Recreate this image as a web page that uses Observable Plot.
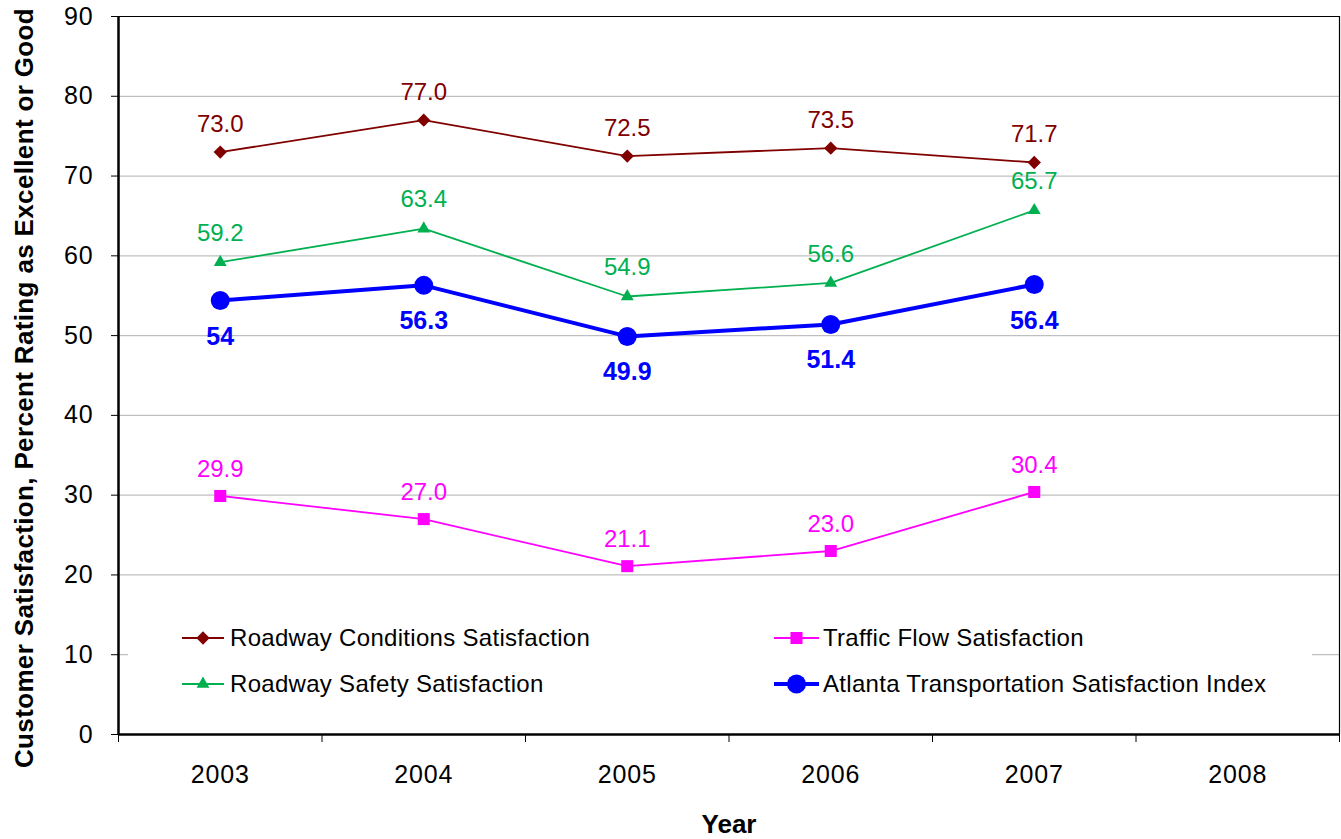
<!DOCTYPE html>
<html><head><meta charset="utf-8">
<script src="https://cdn.jsdelivr.net/npm/d3@7"></script>
<script src="https://cdn.jsdelivr.net/npm/@observablehq/plot@0.6"></script>
<style>
body{margin:0;background:#fff;font-family:"Liberation Sans",Arial,sans-serif;}
#wrap{position:relative;width:1341px;height:839px;overflow:hidden;background:#fff}
</style></head><body><div id="wrap"></div>
<script>
// ---- data ----
const years = [2003, 2004, 2005, 2006, 2007];
const axisYears = [2003, 2004, 2005, 2006, 2007, 2008];
const yTicks = [0, 10, 20, 30, 40, 50, 60, 70, 80, 90];
const seriesNames = [
  "Roadway Conditions Satisfaction",
  "Traffic Flow Satisfaction",
  "Roadway Safety Satisfaction",
  "Atlanta Transportation Satisfaction Index"
];
const conditions = [73.0, 77.0, 72.5, 73.5, 71.7];
const safety = [59.2, 63.4, 54.9, 56.6, 65.7];
const traffic = [29.9, 27.0, 21.1, 23.0, 30.4];
const atsi = [54.4, 56.3, 49.9, 51.4, 56.4];
const atsiLabels = ["54", "56.3", "49.9", "51.4", "56.4"];
const xTitle = "Year";
const yTitle = "Customer Satisfaction, Percent Rating as Excellent or Good";

// ---- styles ----
const FONT = "Liberation Sans, Arial, sans-serif";
const styles = {
  [seriesNames[0]]: {color: "#800000", symbol: "diamond2", r: 6, sw: 1.8, fmt: d => d.toFixed(1), bold: false, dy: -28},
  [seriesNames[1]]: {color: "#FF00FF", symbol: "square", r: 6.8, sw: 1.8, fmt: d => d.toFixed(1), bold: false, dy: -27},
  [seriesNames[2]]: {color: "#00B050", symbol: "triangle", r: 4.8, sw: 1.8, fmt: d => d.toFixed(1), bold: false, dy: -29},
  [seriesNames[3]]: {color: "#0000FF", symbol: "circle", r: 9.5, sw: 4, fmt: null, bold: true, dy: 36}
};
const seriesValues = [conditions, traffic, safety, atsi];

const rows = (i) => years.map((yr, j) => ({
  year: yr, value: seriesValues[i][j],
  label: i === 3 ? atsiLabels[j] : styles[seriesNames[i]].fmt(seriesValues[i][j])
}));

const boundaries = axisYears.map(d => d - 0.5).concat([axisYears[axisYears.length - 1] + 0.5]);

const seriesMarks = [];
// draw order: conditions, safety, atsi, traffic
[0, 2, 3, 1].forEach(i => {
  const s = styles[seriesNames[i]];
  const data = rows(i);
  seriesMarks.push(Plot.line(data, {x: "year", y: "value", stroke: s.color, strokeWidth: s.sw}));
  seriesMarks.push(Plot.dot(data, {x: "year", y: "value", symbol: () => s.symbol, fill: s.color, stroke: "none", r: s.r}));
  seriesMarks.push(Plot.text(data, {x: "year", y: "value", text: "label", fill: s.color, dy: s.dy,
    fontSize: s.bold ? 25 : 24, fontWeight: s.bold ? "bold" : "normal",
    ...(s.bold ? {style: "letter-spacing:0.5px"} : {})}));
});

const chart = Plot.plot({
  width: 1341, height: 839,
  marginTop: 16, marginBottom: 105, marginLeft: 118, marginRight: 2,
  style: {fontFamily: FONT, fontSize: "24px", background: "#fff", color: "#000"},
  x: {type: "linear", domain: [boundaries[0], boundaries[boundaries.length - 1]]},
  y: {domain: [0, 90]},
  marks: [
    Plot.ruleY(yTicks.filter(d => d > 0 && d < 90), {stroke: "#BFBFBF", strokeWidth: 1.3}),
    Plot.ruleY([90], {stroke: "#000", strokeWidth: 1.2}),
    Plot.ruleX([boundaries[boundaries.length - 1]], {stroke: "#000", strokeWidth: 1.2}),
    Plot.axisY({ticks: yTicks, tickSize: 7, tickPadding: 18, tickFormat: d => String(d), label: null, fontSize: 25}),
    Plot.axisX({ticks: boundaries, tickSize: 8, tickFormat: () => "", label: null}),
    Plot.axisX({ticks: axisYears, tickSize: 0, tickPadding: 31, tickFormat: d => String(d), label: null, fontSize: 25}),
    Plot.ruleX([boundaries[0]], {stroke: "#000", strokeWidth: 2.5}),
    Plot.ruleY([0], {stroke: "#000", strokeWidth: 2.5}),
    ...seriesMarks
  ]
});

document.getElementById("wrap").appendChild(chart);
const svg = d3.select(chart);
// widen axis tick labels slightly (reference glyphs are a bit wider)
svg.selectAll("[aria-label='y-axis tick label'] text, [aria-label='x-axis tick label'] text")
  .style("letter-spacing", "0.8px");

// axis titles
svg.append("text")
  .attr("transform", "translate(33,388) rotate(-90)")
  .attr("text-anchor", "middle")
  .attr("font-family", FONT).attr("font-size", 26).attr("font-weight", "bold")
  .style("letter-spacing", "0.35px")
  .attr("fill", "#000").text(yTitle);
svg.append("text")
  .attr("x", 729).attr("y", 833)
  .attr("text-anchor", "middle")
  .attr("font-family", FONT).attr("font-size", 26).attr("font-weight", "bold")
  .attr("fill", "#000").text(xTitle);

// legend (inside plot, white box)
const lg = svg.append("g").attr("text-anchor", "start");
lg.append("rect").attr("x", 128).attr("y", 604).attr("width", 1184).attr("height", 102).attr("fill", "#fff");
const symMap = {diamond2: d3.symbolDiamond2, square: d3.symbolSquare, triangle: d3.symbolTriangle, circle: d3.symbolCircle};
const legendPos = [
  {x0: 182, x1: 224, tx: 230, y: 638},
  {x0: 774, x1: 819, tx: 823, y: 638},
  {x0: 182, x1: 224, tx: 230, y: 684},
  {x0: 774, x1: 819, tx: 823, y: 684}
];
seriesNames.forEach((name, i) => {
  const s = styles[name], p = legendPos[i];
  lg.append("line").attr("x1", p.x0).attr("x2", p.x1).attr("y1", p.y).attr("y2", p.y)
    .attr("stroke", s.color).attr("stroke-width", s.sw);
  lg.append("path").attr("transform", `translate(${(p.x0 + p.x1) / 2},${p.y})`)
    .attr("d", d3.symbol(symMap[s.symbol], Math.PI * s.r * s.r)()).attr("fill", s.color);
  lg.append("text").attr("x", p.tx).attr("y", p.y).attr("dy", "0.35em")
    .attr("text-anchor", "start")
    .attr("font-family", FONT).attr("font-size", 24).attr("fill", "#000")
    .style("letter-spacing", "0.3px").text(name);
});
</script>
</body></html>
